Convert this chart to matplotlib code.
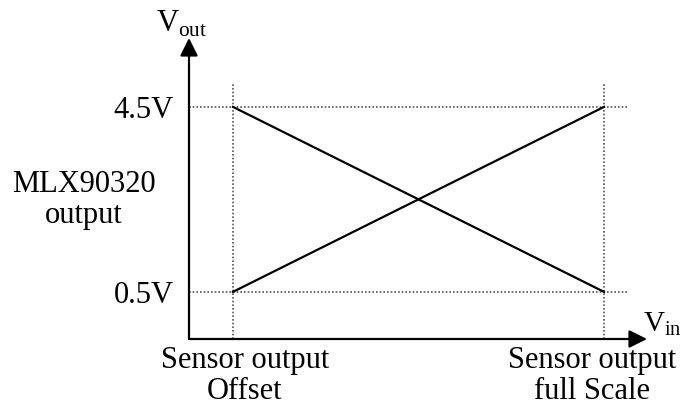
import matplotlib.pyplot as plt
from matplotlib.transforms import ScaledTranslation

plt.rcParams["font.family"] = ["Liberation Serif", "DejaVu Serif"]
plt.rcParams["mathtext.fontset"] = "custom"
plt.rcParams["mathtext.rm"] = "Liberation Serif"

# data (Vin normalised: 0 = offset, 1 = full scale)
vin = [0.0, 1.0]
vout_rising = [0.5, 4.5]
vout_falling = [4.5, 0.5]
vout_levels = [0.5, 4.5]
vout_labels = ["0.5V", "4.5V"]
vin_labels = ["Sensor output\nOffset", "Sensor output\nfull Scale"]

W, H = 683, 408
fig = plt.figure(figsize=(W / 100, H / 100), dpi=100)

# axes box in pixels: left 189, right 647, top 38, bottom 339
ax = fig.add_axes([189 / W, (H - 339) / H, (647 - 189) / W, (339 - 38) / H])
ax.set_xlim(-0.1186, 1.116)
ax.set_ylim(-0.52, 5.99)
for s in ax.spines.values():
    s.set_visible(False)

# axis arrows
arrow = dict(arrowstyle="-|>", color="black", lw=1.6, mutation_scale=27,
             shrinkA=0, shrinkB=0)
ax.annotate("", xy=(0, 1), xytext=(0, 0), xycoords="axes fraction",
            arrowprops=arrow, annotation_clip=False)
ax.annotate("", xy=(1, 0), xytext=(0, 0), xycoords="axes fraction",
            arrowprops=arrow, annotation_clip=False)

# dotted guide lines
grey = "#555555"
for v in vout_levels:
    ax.plot([-0.1186, 1.062], [v, v], ls=(0, (1, 1.2)), lw=1.2, color=grey)
for x in vin:
    ax.plot([x, x], [-0.52, 5.02], ls=(0, (1, 1.2)), lw=1.2, color=grey)

# transfer lines
ax.plot(vin, vout_rising, color="black", lw=1.6)
ax.plot(vin, vout_falling, color="black", lw=1.6)

ax.set_yticks(vout_levels)
ax.set_yticklabels(vout_labels, fontsize=22)
ax.set_xticks(vin)
ax.set_xticklabels(vin_labels, fontsize=22, linespacing=1.1)
ax.tick_params(axis="y", length=0, pad=11)
ax.tick_params(axis="x", length=0, pad=5)

# labels sit a bit inward of their guide lines, as in the original
for lab, dx in zip(ax.get_xticklabels(), [12, -12]):
    lab.set_transform(lab.get_transform()
                      + ScaledTranslation(dx / 100, 0, fig.dpi_scale_trans))

fig.text(182 / W, 1 - 32 / H, r"$\mathrm{V}_{\mathrm{out}}$", fontsize=22,
         ha="center", va="baseline")
fig.text(643 / W, 1 - 331 / H, r"$\mathrm{V}_{\mathrm{in}}$", fontsize=21,
         ha="left", va="baseline")
fig.text(84 / W, 1 - 200 / H, "MLX90320\noutput", fontsize=22,
         ha="center", va="center", linespacing=1.1)

fig.savefig("out.png", dpi=100, facecolor="white")
